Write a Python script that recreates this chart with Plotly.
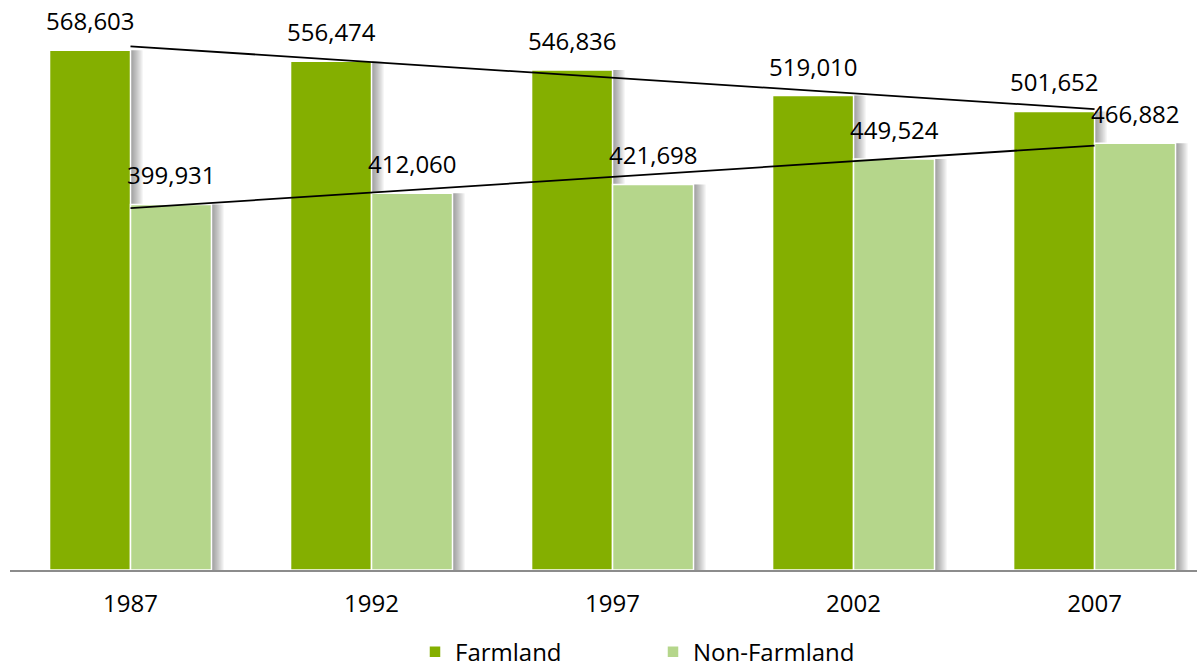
import numpy as np
import plotly.graph_objects as go

years = ["1987", "1992", "1997", "2002", "2007"]
farmland = [568603, 556474, 546836, 519010, 501652]
non_farmland = [399931, 412060, 421698, 449524, 466882]

FARM_COLOR = "#84AF00"
NONFARM_COLOR = "#B5D68B"
FONT = "Open Sans"
BAR_W = 0.336
PX = 1 / 241.0  # one pixel in category units

idx = np.arange(len(years))

def trend(values):
    slope, intercept = np.polyfit(idx, values, 1)
    return slope * idx + intercept

fig = go.Figure()

# soft drop shadows to the right of each bar
for vals, off in ((farmland, -BAR_W), (non_farmland, 0.0)):
    for step in (12, 10, 8, 6, 4, 2):
        fig.add_trace(go.Bar(
            x=years, y=vals, width=BAR_W, offset=off + step * PX,
            marker=dict(color="rgba(0,0,0,0.07)", line=dict(width=0)),
            showlegend=False, hoverinfo="skip",
        ))

fig.add_trace(go.Bar(
    x=years, y=farmland, name="Farmland", width=BAR_W, offset=-BAR_W,
    marker=dict(color=FARM_COLOR, line=dict(color="white", width=1.5)),
))
fig.add_trace(go.Bar(
    x=years, y=non_farmland, name="Non-Farmland", width=BAR_W, offset=0.0,
    marker=dict(color=NONFARM_COLOR, line=dict(color="white", width=1.5)),
))

# linear trendlines for both series
for vals in (farmland, non_farmland):
    fig.add_trace(go.Scatter(
        x=years, y=trend(vals), mode="lines",
        line=dict(color="black", width=1.8),
        showlegend=False, hoverinfo="skip",
    ))

annotations = []
for vals, dx in ((farmland, -BAR_W / 2), (non_farmland, BAR_W / 2)):
    for i, v in enumerate(vals):
        annotations.append(dict(
            x=i + dx, y=v, xref="x", yref="y", text=f"{v:,}",
            showarrow=False, yanchor="bottom", yshift=11,
            font=dict(family=FONT, size=24, color="black"),
        ))

fig.update_layout(
    width=1197, height=670,
    margin=dict(l=10, r=0, t=0, b=100, autoexpand=False),
    paper_bgcolor="white", plot_bgcolor="white",
    barmode="overlay",
    font=dict(family=FONT, size=24, color="black"),
    annotations=annotations,
    xaxis=dict(
        type="category", range=[-0.5, 4.425],
        showline=True, linecolor="#8C8C8C", linewidth=2,
        showgrid=False, zeroline=False, ticks="",
        ticklabelstandoff=11,
        tickfont=dict(family=FONT, size=24, color="black"),
    ),
    yaxis=dict(
        range=[0, 623500], visible=False, showgrid=False, zeroline=False,
    ),
    legend=dict(
        orientation="h", x=(415 - 10) / 1187, xanchor="left",
        y=-0.144, yref="paper", yanchor="middle",
        entrywidth=193, entrywidthmode="pixels",
        font=dict(family=FONT, size=24, color="black"),
        bgcolor="rgba(0,0,0,0)",
    ),
    showlegend=True,
)

fig.write_html("out.html")
